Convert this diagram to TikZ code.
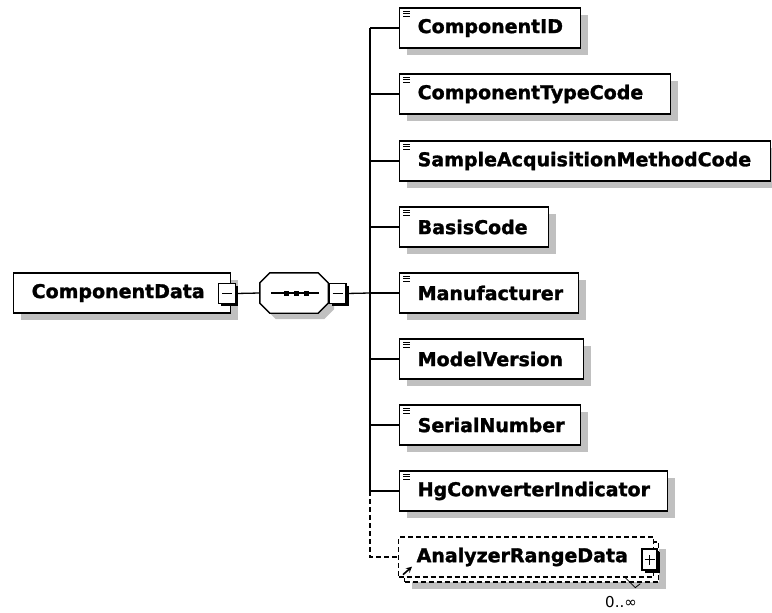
\documentclass[tikz,border=0pt]{standalone}
\usepackage{fontspec}
\setmainfont{DejaVu Sans}
\newfontfamily\elemfont{DejaVu Sans}[BoldFeatures = {FakeBold = 1.5}]
\usetikzlibrary{arrows, shadows}
\definecolor{shgray}{RGB}{192,192,192}

\begin{document}
\begin{tikzpicture}[
            x = 1pt, y = -1pt, % pixel grid, y runs downwards
            > = stealth, % arrow head style
            conn/.style = {line width = 1.3pt}, % connector lines
            optline/.style = {line width = 1.3pt, dash pattern = on 5pt off 3pt},
            boxtext/.style = {
                minimum height = 40,
                inner xsep = 18, inner ysep = 0,
                text width = #1,
                align = flush left,
                font = \fontsize{19}{22}\selectfont\elemfont\bfseries
            },
            elem/.style = {
                boxtext = #1,
                draw, line width = 1.4pt, fill = white,
                drop shadow = {shadow xshift = 7pt, shadow yshift = -7pt, fill = shgray, opacity = 1}
            },
            expbox/.style = {
                draw, line width = 1.4pt, fill = white,
                minimum width = 17, minimum height = 20, inner sep = 0,
                drop shadow = {shadow xshift = 2.5pt, shadow yshift = -2.5pt, fill = black, opacity = 1}
            },
            seqbox/.style = {minimum width = 68, minimum height = 40, inner sep = 0}
        ]

        \useasboundingbox (0,0) rectangle (772,613);

        % root element and sequence
        \node[elem = 181pt, anchor = west] (cd) at (13,293) {ComponentData};
        \node[expbox] (cdx) at (227,293.5) {};
        \node[seqbox] (seq) at (294,293) {};
        \filldraw[line width = 1.4pt, fill = white,
            drop shadow = {shadow xshift = 6pt, shadow yshift = -6pt, fill = shgray, opacity = 1}]
            ([xshift = 10]seq.north west) -- ([xshift = -10]seq.north east)
            -- ([yshift = -10]seq.north east) -- ([yshift = 10]seq.south east)
            -- ([xshift = -10]seq.south east) -- ([xshift = 10]seq.south west)
            -- ([yshift = 10]seq.south west) -- ([yshift = -10]seq.north west) -- cycle;
        \node[expbox] (seqx) at (337.5,293.5) {};
        \coordinate (bus) at (370,293);

        % child elements
        \node[elem = 145pt, anchor = west] (cid) at (399,28) {ComponentID};
        \node[elem = 235pt, anchor = west] (ctc) at (399,94) {ComponentTypeCode};
        \node[elem = 335pt, anchor = west] (sam) at (399,161) {SampleAcquisitionMethodCode};
        \node[elem = 113pt, anchor = west] (bas) at (399,227) {BasisCode};
        \node[elem = 143pt, anchor = west] (man) at (399,293) {Manufacturer};
        \node[elem = 148pt, anchor = west] (mod) at (399,359) {ModelVersion};
        \node[elem = 145pt, anchor = west] (ser) at (399,425) {SerialNumber};
        \node[elem = 232pt, anchor = west] (hgc) at (399,491) {HgConverterIndicator};

        % optional, repeated element
        \node[boxtext = 218pt, draw, optline, fill = white,
            drop shadow = {shadow xshift = 7pt, shadow yshift = -7pt, fill = shgray, opacity = 1},
            anchor = west] (ardb) at (404,562) {};
        \node[boxtext = 219pt, draw, optline, fill = white, anchor = west] (ard) at (398,557) {AnalyzerRangeData};
        \node[expbox, minimum width = 15, minimum height = 21] (ardx) at (649.5,559.5) {};
        \node[font = \fontsize{15}{18}\selectfont] (occ) at (621,602) {0..∞};

        % minus and plus signs
        \foreach \n in {cdx, seqx, ardx}
            \draw[line width = 1.2pt] ([xshift = -5]\n.center) -- ([xshift = 5]\n.center);
        \draw[line width = 1.2pt] ([yshift = -5]ardx.center) -- ([yshift = 5]ardx.center);

        % simple type icons
        \foreach \n in {cid, ctc, sam, bas, man, mod, ser, hgc}
            \foreach \dy in {4, 6.5, 9}
                \draw[line width = 0.9pt] ([shift = {(4,\dy)}]\n.north west) -- ++(7,0);

        % sequence dots
        \draw[line width = 1.3pt] ([xshift = -23]seq.center) -- ([xshift = 25]seq.center);
        \foreach \dx in {-8, 2, 12}
            \fill ([shift = {(\dx-2.5,-2.5)}]seq.center) rectangle ++(5,5);

        % connectors
        \draw[conn] (cdx.east) -- (seq.west);
        \draw[conn] (seqx.east) -- (bus);
        \draw[conn] (bus |- cid.west) -- (bus |- hgc.west);
        \foreach \n in {cid, ctc, sam, bas, man, mod, ser, hgc}
            \draw[conn] (bus |- \n.west) -- (\n.west);
        \draw[optline] (bus |- hgc.west) -- (bus |- ard.west) -- (ard.west);

        % reference arrow and occurrence mark
        \coordinate (reft) at ([shift = {(5,-3)}]ard.south west);
        \draw[->, line width = 1.6pt] (reft) -- ++(9,-8);
        \draw[line width = 0.8pt] ([shift = {(-29,0)}]ard.south east) -- ++(10,10) -- ++(5,-4);

  \end{tikzpicture}
\end{document}
